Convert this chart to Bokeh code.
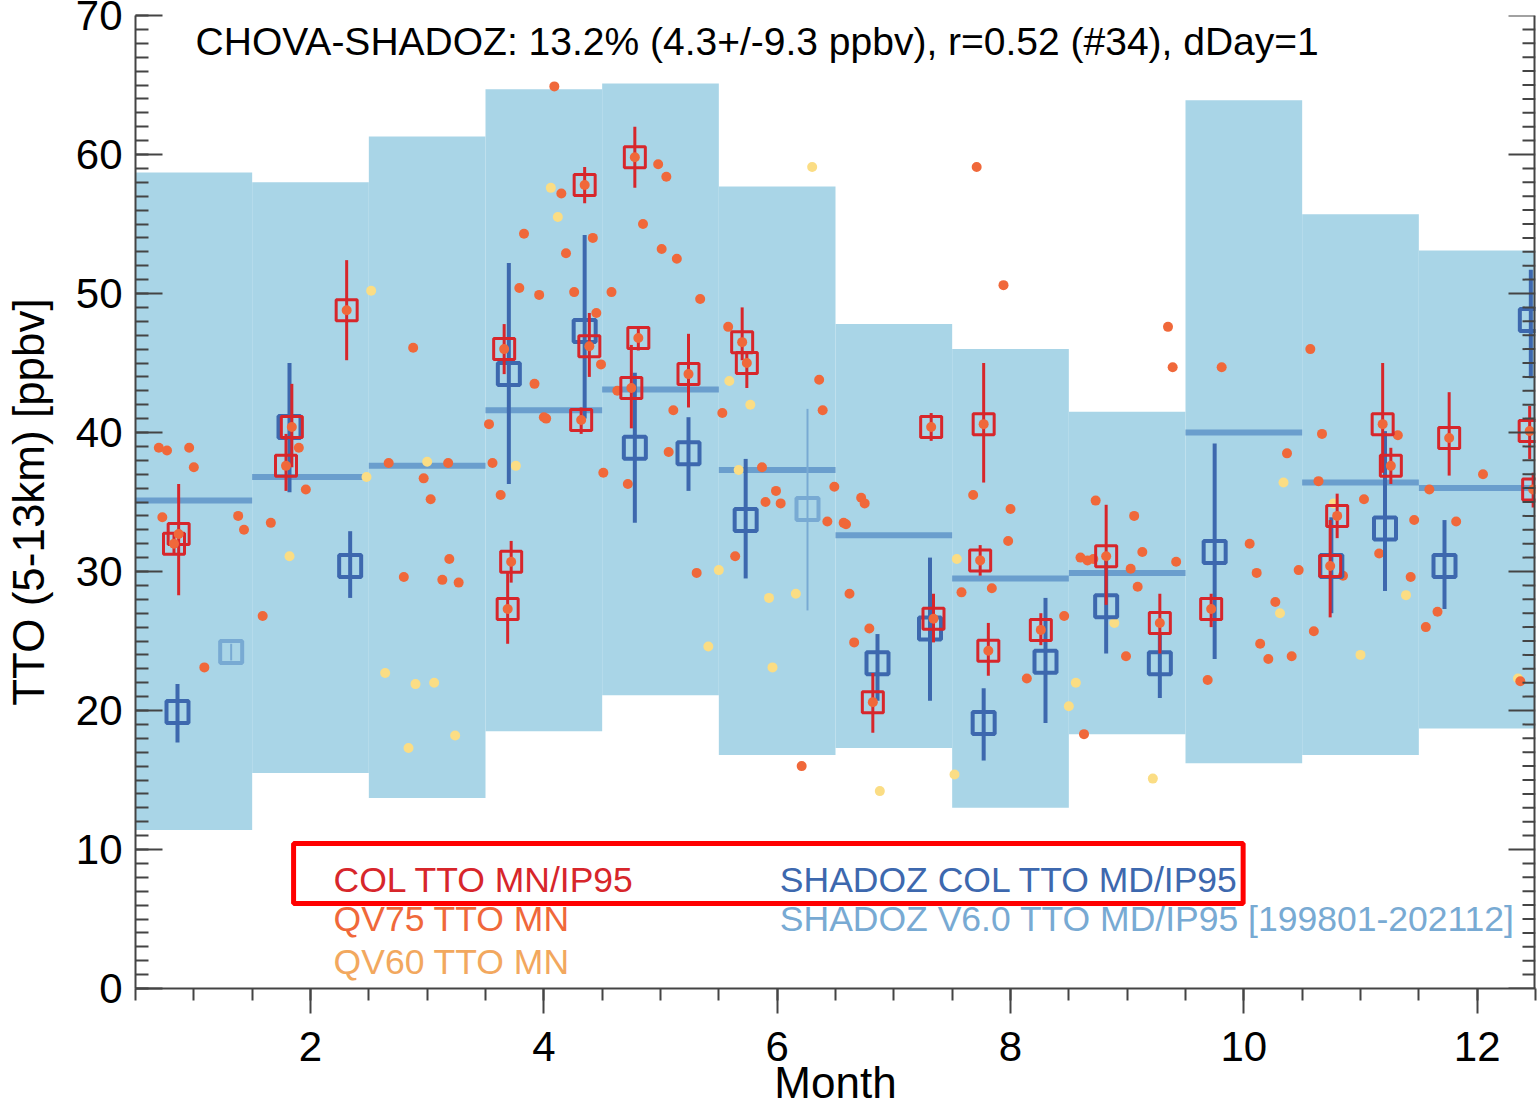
from bokeh.plotting import figure
from bokeh.models import SingleIntervalTicker, Label, BoxAnnotation, Range1d
from bokeh.embed import file_html
from bokeh.resources import INLINE

FONT = "Liberation Sans"

# ---------------- data ----------------
months = [1, 2, 3, 4, 5, 6, 7, 8, 9, 10, 11, 12]
clim_lo = [11.4, 15.5, 13.7, 18.5, 21.1, 16.8, 17.3, 13.0, 18.3, 16.2, 16.8, 18.7]
clim_hi = [58.7, 58.0, 61.3, 64.7, 65.1, 57.7, 47.8, 46.0, 41.5, 63.9, 55.7, 53.1]
clim_md = [35.1, 36.8, 37.6, 41.6, 43.1, 37.3, 32.6, 29.5, 29.9, 40.0, 36.4, 36.0]

# CHOVA column TTO (mean / IP95)
col_mon = [0.83, 0.87, 1.79, 1.84, 2.31, 3.66, 3.72, 3.69, 4.32, 4.35, 4.39, 4.75, 4.78, 4.81,
           5.24, 5.70, 5.74, 6.82, 7.32, 7.34, 7.77, 7.74, 7.81, 8.26, 8.82, 9.28, 9.72,
           10.74, 10.80, 11.19, 11.26, 11.76, 12.45, 12.48]
col_val = [32.0, 32.7, 37.6, 40.4, 48.8, 46.0, 30.7, 27.3, 40.9, 57.8, 46.2, 43.2, 59.8, 46.8,
           44.2, 46.5, 45.0, 20.6, 40.4, 26.6, 40.6, 30.8, 24.3, 25.8, 31.1, 26.3, 27.3,
           30.4, 34.0, 40.6, 37.6, 39.6, 40.1, 35.9]
col_lo = [31.2, 28.3, 35.8, 37.5, 45.2, 44.2, 29.2, 24.8, 39.9, 56.5, 44.0, 40.3, 57.6, 45.9,
          41.8, 45.2, 43.2, 18.4, 39.4, 24.9, 36.4, 29.7, 22.5, 24.7, 27.6, 24.1, 26.0,
          26.7, 32.4, 37.1, 36.3, 36.9, 38.1, 34.6]
col_hi = [32.8, 36.3, 39.9, 43.5, 52.4, 47.8, 32.2, 29.9, 41.8, 59.1, 48.6, 46.3, 62.0, 47.6,
          47.1, 49.0, 45.8, 22.7, 41.4, 28.4, 45.0, 31.9, 26.3, 27.0, 34.8, 28.4, 28.4,
          33.7, 35.6, 45.0, 38.9, 42.9, 41.9, 37.1]

# SHADOZ column TTO (median / IP95)
sh_mon = [0.86, 1.82, 2.34, 3.70, 4.35, 4.78, 5.24, 5.73, 6.86, 7.31, 7.77, 8.30, 8.82, 9.28,
          9.75, 10.75, 11.21, 11.72, 12.46]
sh_val = [19.9, 40.4, 30.4, 44.2, 47.3, 38.9, 38.5, 33.7, 23.4, 25.9, 19.1, 23.5, 27.5, 23.4,
          31.4, 30.4, 33.1, 30.4, 48.1]
sh_lo = [17.7, 35.7, 28.1, 36.3, 41.0, 33.5, 35.8, 29.5, 20.7, 20.7, 16.4, 19.1, 24.1, 20.9,
         23.7, 27.0, 28.6, 27.3, 43.9]
sh_hi = [21.9, 45.0, 32.9, 52.2, 54.2, 44.3, 41.1, 38.1, 25.5, 31.0, 21.6, 28.1, 31.2, 25.5,
         39.2, 33.9, 40.1, 33.7, 51.7]

# SHADOZ V6.0 single points
v6_mon = [1.32, 6.26]
v6_val = [24.2, 34.5]
v6_lo = [23.6, 27.2]
v6_hi = [24.8, 41.7]

# QV75 TTO MN
qv75_mon = [0.70, 0.77, 0.96, 1.00, 0.73, 1.38, 1.43, 1.09,
            1.59, 1.66, 1.90, 1.96,
            2.67, 2.97, 3.03, 3.18, 2.80, 3.19, 3.13, 3.27, 2.88,
            3.53, 3.56, 3.63, 4.09, 4.15, 3.83, 4.42, 4.19, 3.79, 3.96, 4.26, 4.45, 3.92,
            4.00, 4.02, 4.51, 4.72, 4.49,
            4.98, 5.05, 4.85, 5.01, 5.14, 4.58, 5.34, 4.63, 5.11, 5.53, 5.58, 5.07, 5.64, 5.31,
            5.87, 5.99, 5.90, 6.03, 6.36, 6.39, 6.49, 6.43, 6.57, 6.59, 6.62, 6.21,
            6.72, 6.75, 6.79, 6.66, 7.68, 7.71,
            7.94, 8.00, 7.98, 7.58, 7.84, 8.14, 8.46,
            8.73, 8.60, 8.66, 8.71, 9.06, 9.13, 9.03, 9.09, 9.42, 8.99, 8.63, 9.35, 9.39,
            9.81, 9.69, 10.05, 10.11, 10.14, 10.21, 10.27, 10.41, 10.47, 10.37,
            10.57, 10.67, 10.64, 10.60, 10.85, 11.03, 11.16, 11.32, 11.43, 11.46, 11.56,
            11.59, 11.66,
            11.82, 12.05, 12.37]
qv75_val = [38.9, 38.7, 38.9, 37.5, 33.9, 34.0, 33.0, 23.1,
            26.8, 33.5, 38.9, 35.9,
            37.8, 36.7, 35.2, 37.8, 29.6, 30.9, 29.4, 29.2, 46.1,
            40.6, 37.8, 35.5, 64.9, 57.2, 54.3, 54.0, 52.9, 50.4, 49.9, 50.1, 48.6, 43.5,
            41.1, 41.0, 37.1, 36.3, 44.9,
            59.3, 58.4, 55.0, 53.2, 52.5, 50.1, 49.6, 43.0, 41.6, 41.4, 47.6, 38.6, 31.1, 29.9,
            37.5, 35.8, 35.0, 34.9, 43.8, 41.6, 36.1, 33.6, 33.5, 33.4, 28.4, 16.0,
            35.3, 34.9, 25.9, 24.9, 35.5, 59.1,
            50.6, 34.5, 32.2, 28.5, 28.8, 22.3, 26.8,
            35.1, 31.0, 30.8, 30.9, 34.0, 31.4, 30.2, 28.9, 30.7, 23.9, 18.3, 47.6, 44.7,
            44.7, 22.2, 32.0, 29.9, 24.8, 23.7, 27.8, 23.9, 30.1, 38.5,
            46.0, 39.9, 36.5, 25.7, 29.7, 35.2, 31.3, 39.8, 29.6, 33.7, 26.0,
            35.9, 27.1,
            33.6, 37.0, 22.1]

# QV60 TTO MN
qv60_mon = [1.82, 2.48, 2.52, 2.64, 2.90, 3.06, 3.00, 2.84, 3.24, 3.76, 4.06, 4.12,
            5.59, 5.77, 5.67, 5.50, 5.41, 5.93, 6.16, 5.96, 6.30, 6.88, 7.52, 7.54,
            8.56, 8.50, 8.89, 9.22, 10.34, 10.31, 10.77, 11.00, 11.39, 12.35]
qv60_val = [31.1, 36.8, 50.2, 22.7, 21.9, 22.0, 37.9, 17.3, 18.2, 37.6, 57.6, 55.5,
            43.7, 42.0, 37.3, 30.1, 24.6, 28.1, 28.4, 23.1, 59.1, 14.2, 15.4, 30.9,
            22.0, 20.3, 26.3, 15.1, 36.4, 27.0, 34.9, 24.0, 28.3, 22.3]

# axis ticks (values)
y_major = [0, 10, 20, 30, 40, 50, 60, 70]
y_minor = [v for v in range(0, 71) if v % 10 != 0]

title_text = "CHOVA-SHADOZ: 13.2% (4.3+/-9.3 ppbv), r=0.52 (#34), dDay=1"
legend_left = ["COL TTO MN/IP95", "QV75 TTO MN", "QV60 TTO MN"]
legend_right = ["SHADOZ COL TTO MD/IP95", "SHADOZ V6.0 TTO MD/IP95 [199801-202112]"]

# ---------------- styles ----------------
C_BAR = "#a9d5e7"
C_MED = "#6a9ecd"
C_RED = "#d7262b"
C_ORG = "#f0683a"
C_YEL = "#fbdd84"
C_BLUE = "#3d68ae"
C_LBLUE = "#78aad3"
C_AX = "#444444"

W, H = 1537, 1109
BL, BR, BT, BB = 135, 2, 15, 120
X0, X1 = 0.5, 12.5
px_per_month = (W - BL - BR) / (X1 - X0)

p = figure(width=W, height=H, x_range=Range1d(X0, X1), y_range=Range1d(0, 70),
           output_backend="svg", toolbar_location=None,
           min_border_left=BL, min_border_right=BR, min_border_top=BT, min_border_bottom=BB)
p.outline_line_color = None
p.xgrid.visible = False
p.ygrid.visible = False
p.background_fill_color = "white"
p.border_fill_color = "white"

# climatology boxes and medians
p.quad(left=[m - 0.5 for m in months], right=[m + 0.5 for m in months],
       bottom=clim_lo, top=clim_hi, fill_color=C_BAR, line_color=None)
p.segment(x0=[m - 0.5 for m in months], x1=[m + 0.5 for m in months],
          y0=clim_md, y1=clim_md, line_color=C_MED, line_width=6)

# scattered dots
p.scatter(qv60_mon, qv60_val, size=10, fill_color=C_YEL, line_color=None)
p.scatter(qv75_mon, qv75_val, size=10, fill_color=C_ORG, line_color=None)

# SHADOZ V6.0 points
p.segment(x0=v6_mon, x1=v6_mon, y0=v6_lo, y1=v6_hi, line_color=C_LBLUE, line_width=2)
p.scatter(v6_mon, v6_val, marker="square", size=22, fill_color=None,
          line_color=C_LBLUE, line_width=4)

# SHADOZ column
p.segment(x0=sh_mon, x1=sh_mon, y0=sh_lo, y1=sh_hi, line_color=C_BLUE, line_width=4)
p.scatter(sh_mon, sh_val, marker="square", size=22, fill_color=None,
          line_color=C_BLUE, line_width=4)

# CHOVA column
p.segment(x0=col_mon, x1=col_mon, y0=col_lo, y1=col_hi, line_color=C_RED, line_width=3)
p.scatter(col_mon, col_val, marker="square", size=21, fill_color=None,
          line_color=C_RED, line_width=3)
p.scatter(col_mon, col_val, size=10, fill_color=C_ORG, line_color=None)

# right-hand axis line and inward ticks
p.segment(x0=[X1], x1=[X1], y0=[0], y1=[70], line_color=C_AX, line_width=4)
p.segment(x0=[X1] * len(y_major), x1=[X1 - 27 / px_per_month] * len(y_major),
          y0=y_major, y1=y_major, line_color=C_AX, line_width=2)
p.segment(x0=[X1] * len(y_minor), x1=[X1 - 13 / px_per_month] * len(y_minor),
          y0=y_minor, y1=y_minor, line_color=C_AX, line_width=2)

# axes
xax = p.xaxis[0]
xax.ticker = SingleIntervalTicker(interval=2, num_minor_ticks=4)
xax.major_tick_in = 0
xax.major_tick_out = 25
xax.minor_tick_in = 0
xax.minor_tick_out = 12
xax.major_label_standoff = 18
xax.major_label_text_font = FONT
xax.major_label_text_font_size = "42px"
xax.major_label_text_color = "black"
xax.axis_label = "Month"
xax.axis_label_text_font = FONT
xax.axis_label_text_font_size = "44px"
xax.axis_label_text_font_style = "normal"
xax.axis_label_text_color = "black"
xax.axis_label_standoff = -6

yax = p.yaxis[0]
yax.ticker = SingleIntervalTicker(interval=10, num_minor_ticks=10)
yax.major_tick_in = 27
yax.major_tick_out = 0
yax.minor_tick_in = 13
yax.minor_tick_out = 0
yax.major_label_standoff = 13
yax.major_label_text_font = FONT
yax.major_label_text_font_size = "42px"
yax.major_label_text_color = "black"
yax.axis_label = "TTO (5-13km) [ppbv]"
yax.axis_label_text_font = FONT
yax.axis_label_text_font_size = "44px"
yax.axis_label_text_font_style = "normal"
yax.axis_label_text_color = "black"
yax.axis_label_standoff = 20

for ax in (xax, yax):
    ax.axis_line_color = C_AX
    ax.axis_line_width = 2
    ax.major_tick_line_color = C_AX
    ax.major_tick_line_width = 2
    ax.minor_tick_line_color = C_AX
    ax.minor_tick_line_width = 2

# title inside plot
p.add_layout(Label(x=1.015, y=68.1, text=title_text, text_baseline="alphabetic",
                   text_font=FONT, text_font_size="39px", text_color="black"))

# legend texts
left_colors = [C_RED, C_ORG, "#f2a85e"]
right_colors = [C_BLUE, C_LBLUE]
rows_y = [7.84, 5.03, 1.94]
for t, c, yy in zip(legend_left, left_colors, rows_y):
    p.add_layout(Label(x=2.198, y=yy, text=t, text_baseline="alphabetic",
                       text_font=FONT, text_font_size="35.5px", text_color=c))
for t, c, yy in zip(legend_right, right_colors, rows_y):
    p.add_layout(Label(x=6.023, y=yy, text=t, text_baseline="alphabetic",
                       text_font=FONT, text_font_size="35.5px", text_color=c))

# highlight box
p.add_layout(BoxAnnotation(left=1.855, right=9.994, bottom=6.12, top=10.43,
                           fill_alpha=0, line_color="#ff0000", line_width=5, line_alpha=1))

open("out.html", "w").write(file_html(p, INLINE))
